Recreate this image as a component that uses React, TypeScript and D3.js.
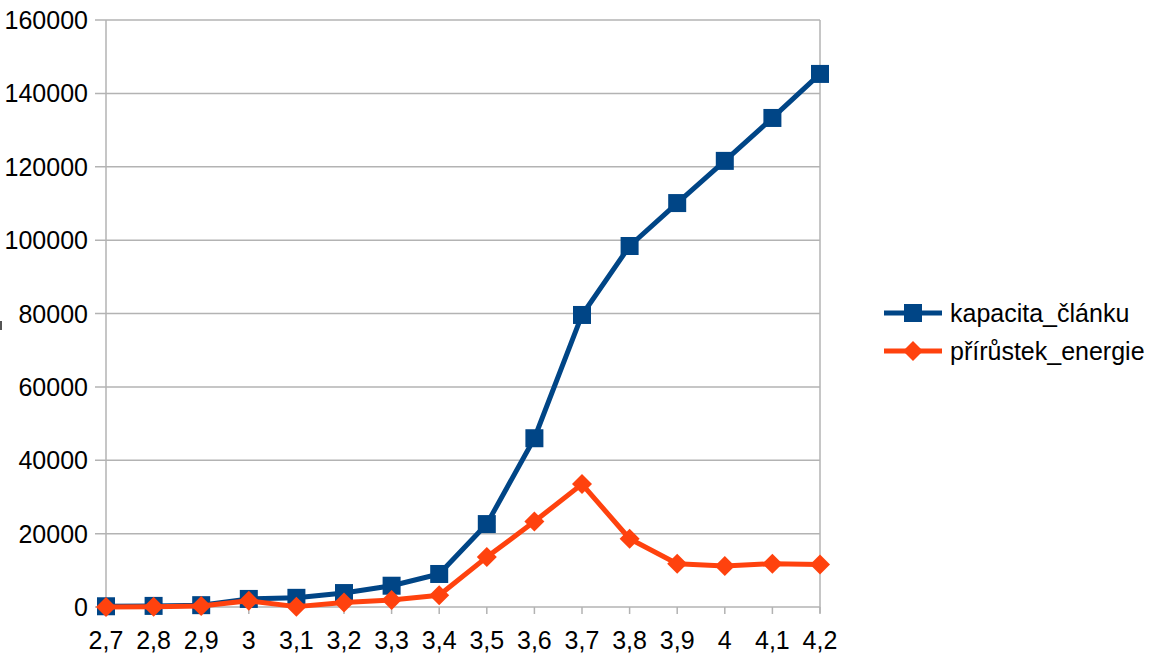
import React from "react";
import * as d3 from "d3";

const categories = ["2,7", "2,8", "2,9", "3", "3,1", "3,2", "3,3", "3,4", "3,5", "3,6", "3,7", "3,8", "3,9", "4", "4,1", "4,2"];
const kapacita = [200, 300, 500, 2200, 2500, 3800, 5800, 9000, 22600, 46000, 79600, 98400, 110100, 121600, 133300, 145300];
const prirustek = [0, 100, 300, 1700, 100, 1200, 1900, 3200, 13600, 23300, 33500, 18600, 11800, 11200, 11800, 11600];
const yTicks = [0, 20000, 40000, 60000, 80000, 100000, 120000, 140000, 160000];
const seriesNames = ["kapacita_článku", "přírůstek_energie"];

const W = 1156;
const H = 658;
const left = 106;
const right = 820;
const top = 20;
const bottom = 607;
const BLUE = "#004586";
const ORANGE = "#ff420e";
const GRID = "#b3b3b3";
const FONT = "'Liberation Sans', Arial, sans-serif";
const FS = 25;

export default function App() {
  const x = d3.scalePoint<string>().domain(categories).range([left, right]);
  const y = d3.scaleLinear().domain([0, 160000]).range([bottom, top]);
  const line = d3
    .line<number>()
    .x((_, i) => x(categories[i]) as number)
    .y((d) => y(d));

  const diamond = (cx: number, cy: number, r: number) =>
    `M${cx},${cy - r}L${cx + r},${cy}L${cx},${cy + r}L${cx - r},${cy}Z`;

  return (
    <svg
      width={W}
      height={H}
      style={{ position: "absolute", left: 0, top: 0, background: "#fff" }}
      fontFamily={FONT}
    >
      <rect x={0} y={0} width={W} height={H} fill="#fff" />
      {yTicks.map((t) => (
        <g key={t}>
          <line x1={left - 11} x2={right} y1={y(t)} y2={y(t)} stroke={GRID} strokeWidth={1.5} />
          <text x={88} y={y(t)} textAnchor="end" dominantBaseline="central" fontSize={FS} fill="#000">
            {t}
          </text>
        </g>
      ))}
      <line x1={left} x2={left} y1={top} y2={bottom + 6} stroke={GRID} strokeWidth={1.5} />
      <line x1={right} x2={right} y1={top} y2={bottom + 6} stroke={GRID} strokeWidth={1.5} />
      {categories.map((c) => (
        <g key={c}>
          <line x1={x(c)} x2={x(c)} y1={bottom} y2={bottom + 7} stroke={GRID} strokeWidth={1.5} />
          <text x={x(c)} y={640} textAnchor="middle" dominantBaseline="central" fontSize={FS} fill="#000">
            {c}
          </text>
        </g>
      ))}
      <rect x={0} y={321} width={2} height={9} fill="#555" />

      <path d={line(kapacita) || ""} fill="none" stroke={BLUE} strokeWidth={5} strokeLinejoin="round" />
      {kapacita.map((v, i) => (
        <rect key={i} x={(x(categories[i]) as number) - 9} y={y(v) - 9} width={18} height={18} fill={BLUE} />
      ))}
      <path d={line(prirustek) || ""} fill="none" stroke={ORANGE} strokeWidth={5} strokeLinejoin="round" />
      {prirustek.map((v, i) => (
        <path key={i} d={diamond(x(categories[i]) as number, y(v), 10)} fill={ORANGE} />
      ))}

      <g>
        <line x1={884} x2={942} y1={313} y2={313} stroke={BLUE} strokeWidth={5} />
        <rect x={904} y={304} width={18} height={18} fill={BLUE} />
        <text x={950} y={313} dominantBaseline="central" fontSize={FS} fill="#000">
          {seriesNames[0]}
        </text>
        <line x1={884} x2={942} y1={351} y2={351} stroke={ORANGE} strokeWidth={5} />
        <path d={diamond(913, 351, 10)} fill={ORANGE} />
        <text x={950} y={351} dominantBaseline="central" fontSize={FS} fill="#000">
          {seriesNames[1]}
        </text>
      </g>
    </svg>
  );
}
